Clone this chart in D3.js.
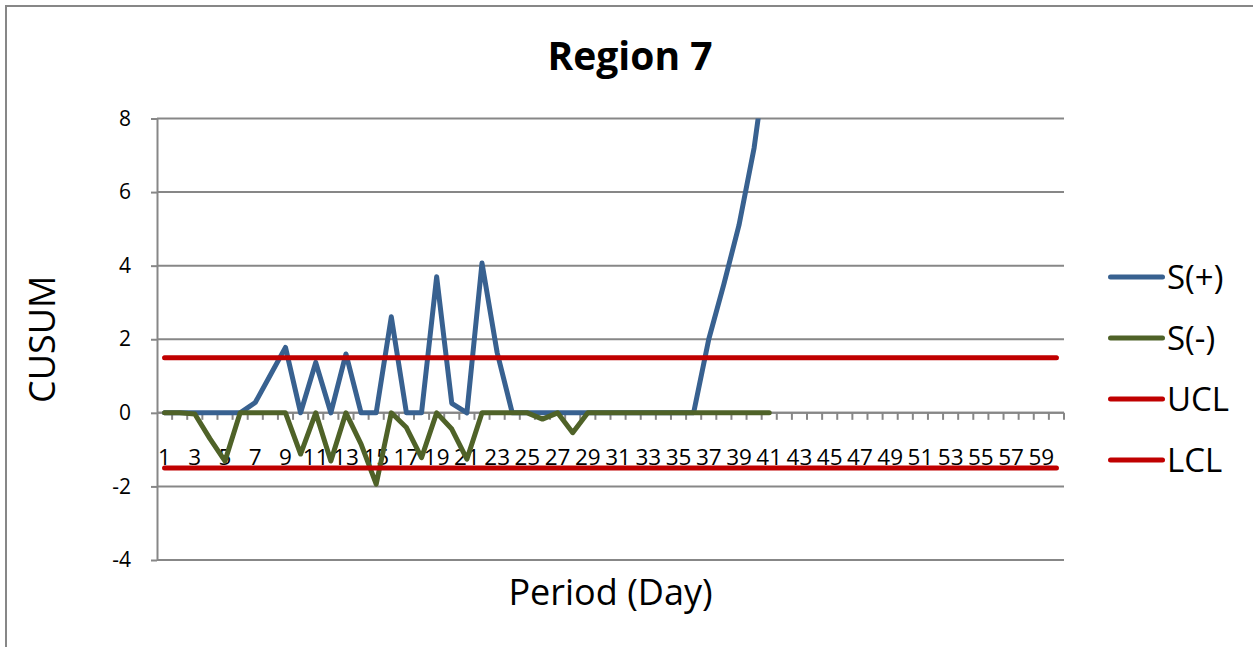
<!DOCTYPE html>
<html>
<head>
<meta charset="utf-8">
<script src="https://cdn.jsdelivr.net/npm/d3@7"></script>
<style>
  body { margin: 0; background: #fff; }
  text { font-family: "Open Sans", "Noto Sans", sans-serif; fill: #000; }
</style>
</head>
<body>
<div id="cusum-chart"></div>
<script>
// days on the category axis
const periods = [1,2,3,4,5,6,7,8,9,10,11,12,13,14,15,16,17,18,19,20,
                 21,22,23,24,25,26,27,28,29,30,31,32,33,34,35,36,37,38,39,40,
                 41,42,43,44,45,46,47,48,49,50,51,52,53,54,55,56,57,58,59,60]

// CUSUM values (only 41 days have data)
const sPlus = [0,0,0,0,0,0,0.28,1.03,1.78,0,1.37,0,1.6,0,0,2.61,0,0,3.7,0.26,
               0,4.07,1.64,0,0,0,0,0,0,0,0,0,0,0,0,0,2.0,3.5,5.1,7.2,10.2]
const sMinus = [0,0,-0.03,-0.7,-1.31,0,0,0,0,-1.12,0,-1.31,0,-0.85,-1.94,0,-0.4,-1.22,0,-0.44,
                -1.26,0,0,0,0,-0.17,0,-0.54,0,0,0,0,0,0,0,0,0,0,0,0,0]
const uclLevel = 1.5
const lclLevel = -1.5

const yTicks = [-4,-2,0,2,4,6,8]
const seriesNames = ["S(+)","S(-)","UCL","LCL"]
const seriesColors = ["#386190","#4F6228","#C00000","#C00000"]

const width = 1253
const height = 647
const plot = { left:157, right:1064, top:118.5, bottom:560 }
const gridColor = "#878787"

let svg = d3.select("#cusum-chart").append("svg")
    .attr("width", width)
    .attr("height", height)
    .style("display","block")

// outer chart frame, runs off the bottom/right edge like the screenshot
svg.append("rect")
    .attr("x", 6).attr("y", 6)
    .attr("width", 1300).attr("height", 700)
    .attr("fill", "none")
    .attr("stroke", gridColor)
    .attr("stroke-width", 2)

let x = d3.scaleBand().domain(periods).range([plot.left, plot.right]).padding(0)
let y = d3.scaleLinear().domain([-4, 8]).range([plot.bottom, plot.top])
let xMid = d => x(d) + x.bandwidth()/2

// gridlines
svg.append("g")
    .selectAll("line")
    .data(yTicks)
    .enter()
    .append("line")
    .attr("x1", plot.left).attr("x2", plot.right)
    .attr("y1", d => y(d)).attr("y2", d => y(d))
    .attr("stroke", gridColor)
    .attr("stroke-width", 2)

// y axis (plain hyphen for negatives, like Excel)
let yAxis = d3.axisLeft(y).tickValues(yTicks).tickFormat(d => String(d))
    .tickSize(6).tickPadding(20).tickSizeOuter(0)
let yG = svg.append("g")
    .attr("transform", `translate(${plot.left},0)`)
    .call(yAxis)
yG.selectAll("path, line").attr("stroke", gridColor).attr("stroke-width", 2)
yG.selectAll("text").style("font-size", "21px").style("font-family", "Open Sans")

// x axis sits on zero, ticks between categories
let xG = svg.append("g").attr("transform", `translate(0,${y(0)})`)
xG.append("line")
    .attr("x1", plot.left).attr("x2", plot.right)
    .attr("stroke", gridColor).attr("stroke-width", 2)
xG.selectAll(".tk")
    .data(periods)
    .enter()
    .append("line")
    .attr("class", "tk")
    .attr("x1", d => x(d) + x.bandwidth()).attr("x2", d => x(d) + x.bandwidth())
    .attr("y1", 0).attr("y2", 7)
    .attr("stroke", gridColor).attr("stroke-width", 2)

let xAxis = d3.axisBottom(x).tickValues(periods.filter(d => d % 2 == 1)).tickSize(0).tickPadding(36)
let xLab = svg.append("g")
    .attr("transform", `translate(0,${y(0)})`)
    .call(xAxis)
xLab.select(".domain").remove()
xLab.selectAll("text").style("font-size", "22.5px").style("font-family", "Open Sans")

// series
svg.append("clipPath").attr("id", "plot-clip")
    .append("rect")
    .attr("x", plot.left).attr("y", plot.top)
    .attr("width", plot.right - plot.left).attr("height", plot.bottom - plot.top)

let seriesData = [sPlus, sMinus, periods.map(() => uclLevel), periods.map(() => lclLevel)]

let line = d3.line()
    .x((d, i) => xMid(periods[i]))
    .y(d => y(d))

svg.append("g")
    .attr("clip-path", "url(#plot-clip)")
    .selectAll("path")
    .data(seriesData)
    .enter()
    .append("path")
    .attr("d", d => line(d))
    .attr("fill", "none")
    .attr("stroke", (d, i) => seriesColors[i])
    .attr("stroke-width", 5)
    .attr("stroke-linejoin", "round")
    .attr("stroke-linecap", "round")

// titles
svg.append("text")
    .attr("x", 630).attr("y", 70)
    .attr("text-anchor", "middle")
    .style("font-size", "39px").style("font-weight", "bold")
    .text("Region 7")

svg.append("text")
    .attr("x", (plot.left + plot.right)/2).attr("y", 605)
    .attr("text-anchor", "middle")
    .style("font-size", "36px")
    .text("Period (Day)")

svg.append("text")
    .attr("transform", `translate(55,${(plot.top + plot.bottom)/2}) rotate(-90)`)
    .attr("text-anchor", "middle")
    .style("font-size", "36px")
    .text("CUSUM")

// legend
let legend = svg.append("g")
    .selectAll("g")
    .data(seriesNames)
    .enter()
    .append("g")
    .attr("transform", (d, i) => `translate(1108,${277 + i*61})`)

legend.append("line")
    .attr("x1", 2.5).attr("x2", 54.5)
    .attr("stroke", (d, i) => seriesColors[i])
    .attr("stroke-width", 5)
    .attr("stroke-linecap", "round")

legend.append("text")
    .attr("x", 59).attr("dy", "0.35em")
    .style("font-size", "33px")
    .text(d => d)
</script>
</body>
</html>
